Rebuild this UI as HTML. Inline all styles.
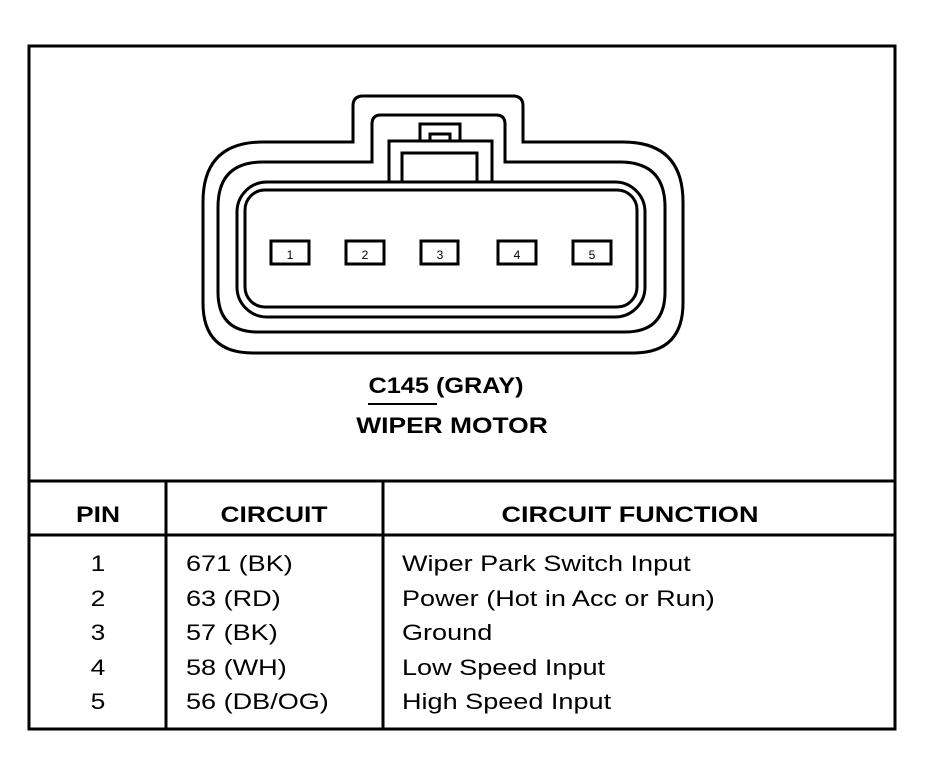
<!DOCTYPE html>
<html><head><style>
body{margin:0;background:#fff;width:930px;height:768px;overflow:hidden}
svg text{font-family:"Liberation Sans",Arial,sans-serif;fill:#000}
</style></head><body>
<svg width="930" height="768" viewBox="0 0 930 768" xmlns="http://www.w3.org/2000/svg">
<g fill="none" stroke="#000" stroke-width="3">
<rect x="29" y="46" width="866" height="683"/>
<line x1="29" y1="481" x2="895" y2="481"/>
<line x1="29" y1="535" x2="895" y2="535"/>
<line x1="166" y1="481" x2="166" y2="729"/>
<line x1="383" y1="481" x2="383" y2="729"/>
<path d="M353,142 L353,106 Q353,96 363,96 L513,96 Q523,96 523,106 L523,142 L623,142 Q683,142 683,202 L683,303 Q683,353 633,353 L253,353 Q203,353 203,303 L203,202 Q203,142 263,142 Z"/>
<path d="M372,162 L372,124 Q372,115 381,115 L496,115 Q505,115 505,124 L505,162 L620,162 Q665,162 665,207 L665,292 Q665,332 625,332 L258,332 Q218,332 218,292 L218,207 Q218,162 263,162 Z"/>
<rect x="237" y="182" width="408" height="135" rx="30"/>
<rect x="245" y="190" width="392" height="117" rx="20"/>
<path d="M389,182 L389,141 L492,141 L492,182"/>
<path d="M402,182 L402,153 L477,153 L477,182"/>
<path d="M420,141 L420,124 L460,124 L460,141"/>
<path d="M430,141 L430,134 L450,134 L450,141"/>
<rect x="271" y="241" width="38" height="23"/>
<rect x="346" y="241" width="38" height="23"/>
<rect x="421" y="241" width="37" height="23"/>
<rect x="498" y="241" width="38" height="23"/>
<rect x="573" y="241" width="38" height="23"/>
<line x1="368" y1="404" x2="437" y2="404" stroke-width="2"/>
</g>
<g font-size="12" text-anchor="middle">
<text x="290" y="259">1</text><text x="365" y="259">2</text><text x="440" y="259">3</text><text x="517" y="259">4</text><text x="592" y="259">5</text>
</g>
<g font-size="22" font-weight="bold" text-anchor="middle">
<g transform="translate(446,0) scale(1.15,1)"><text x="0" y="393">C145 (GRAY)</text></g>
<g transform="translate(452,0) scale(1.2,1)"><text x="0" y="433">WIPER MOTOR</text></g>
<g transform="translate(98,0) scale(1.2,1)"><text x="0" y="522">PIN</text></g>
<g transform="translate(274,0) scale(1.2,1)"><text x="0" y="522">CIRCUIT</text></g>
<g transform="translate(630,0) scale(1.23,1)"><text x="0" y="522">CIRCUIT FUNCTION</text></g>
</g>
<g font-size="22">
<g text-anchor="middle" transform="translate(98,0) scale(1.2,1)">
<text x="0" y="571">1</text><text x="0" y="606">2</text><text x="0" y="640">3</text><text x="0" y="675">4</text><text x="0" y="709">5</text>
</g>
<g transform="translate(186,0) scale(1.23,1)">
<text x="0" y="571">671 (BK)</text>
<text x="0" y="606">63 (RD)</text>
<text x="0" y="640">57 (BK)</text>
<text x="0" y="675">58 (WH)</text>
<text x="0" y="709">56 (DB/OG)</text>
</g>
<g transform="translate(402,0) scale(1.23,1)">
<text x="0" y="571">Wiper Park Switch Input</text>
<text x="0" y="606">Power (Hot in Acc or Run)</text>
<text x="0" y="640">Ground</text>
<text x="0" y="675">Low Speed Input</text>
<text x="0" y="709">High Speed Input</text>
</g>
</g>
</svg>
</body></html>
